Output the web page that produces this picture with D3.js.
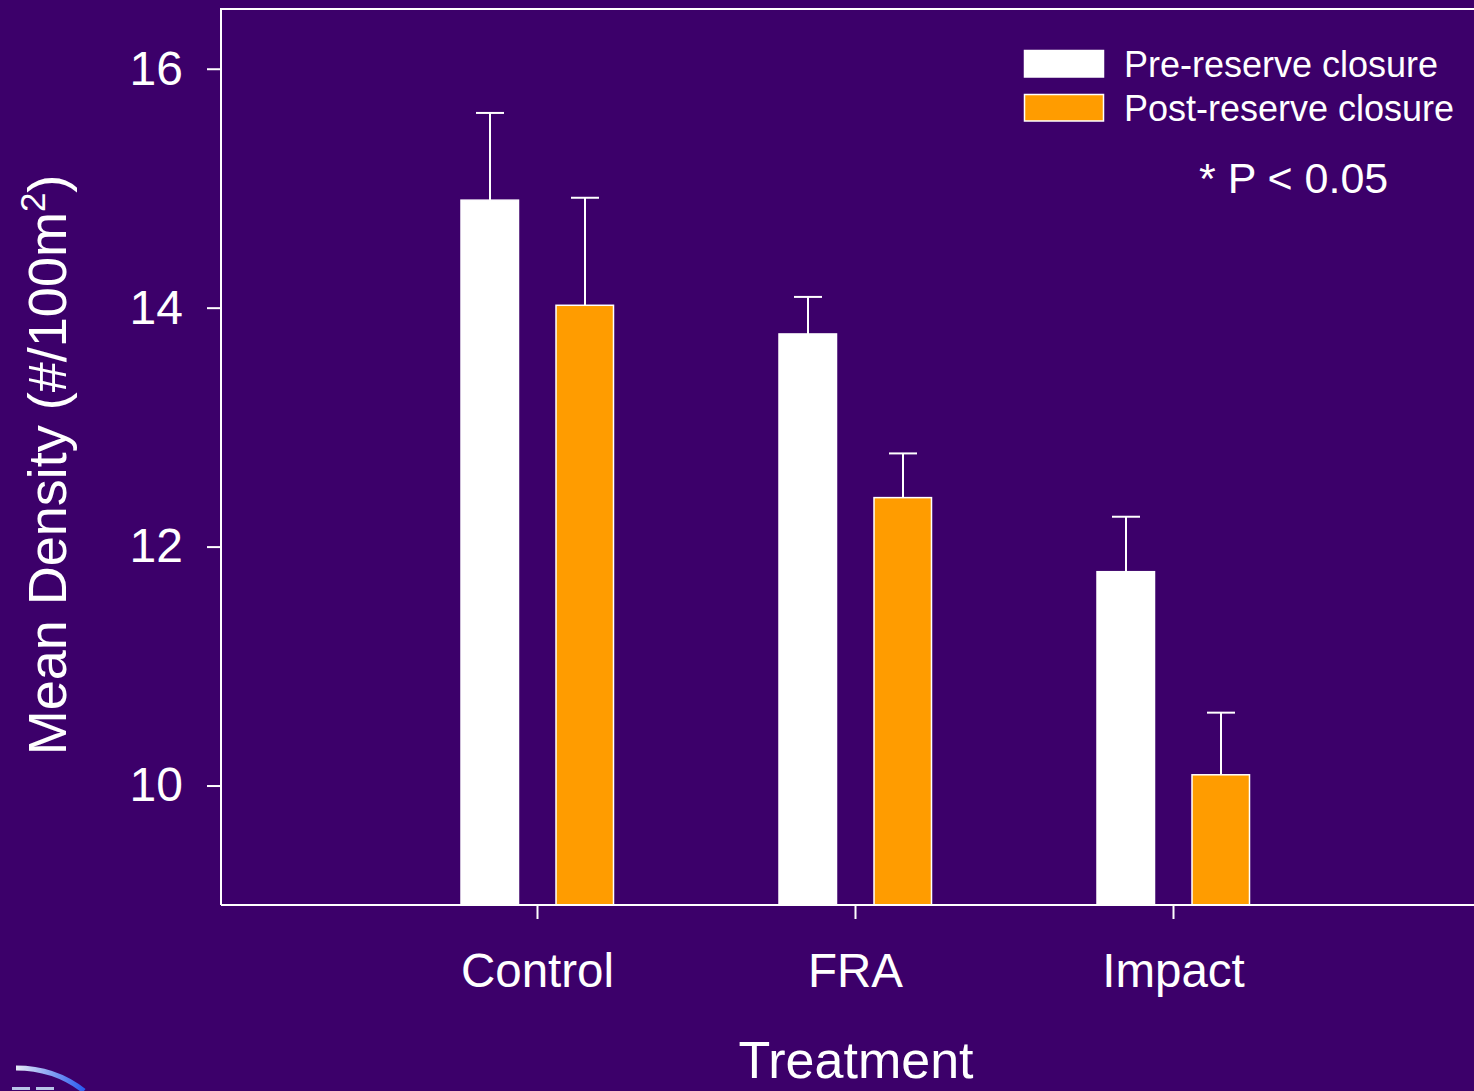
<!DOCTYPE html>
<html><head><meta charset="utf-8">
<script src="https://cdn.jsdelivr.net/npm/d3@7"></script>
<style>html,body{margin:0;padding:0;background:#3c006a;overflow:hidden}</style>
</head><body>
<svg id="c" width="1474" height="1091"></svg>
<script>
const categories = ["Control", "FRA", "Impact"];
const seriesNames = ["Pre-reserve closure", "Post-reserve closure"];
const preValues = [14.90, 13.78, 11.79];
const preErrors = [0.73, 0.31, 0.46];
const postValues = [14.02, 12.41, 10.09];
const postErrors = [0.90, 0.37, 0.52];
const yTicks = [10, 12, 14, 16];
const note = "* P < 0.05";

(function () {
const W = 1474, H = 1091;
const pLeft = 221, pTop = 9, pBottom = 905, pRight = 1490;
const bg = "#3c006a", orange = "#ff9c00", white = "#ffffff";
const font = "Liberation Sans, Arial, Helvetica, sans-serif";

const svg = d3.select("#c");
svg.append("rect").attr("width", W).attr("height", H).attr("fill", bg);

const y = d3.scaleLinear().domain([9, 16.5]).range([pBottom, pTop]);
const x = d3.scalePoint().domain(categories).range([537, 1173]);
const sub = d3.scalePoint().domain(seriesNames).range([-47, 48]);
const barW = 59;

svg.append("path").attr("d", `M${pRight},${pTop}H${pLeft}V${pBottom}`)
  .attr("fill", "none").attr("stroke", white).attr("stroke-width", 2);

const series = [
  {name: seriesNames[0], vals: preValues, errs: preErrors, fill: white},
  {name: seriesNames[1], vals: postValues, errs: postErrors, fill: orange}
];

series.forEach(s => {
  const g = svg.append("g");
  categories.forEach((c, i) => {
    const cx = x(c) + sub(s.name);
    g.append("line").attr("x1", cx).attr("x2", cx)
      .attr("y1", y(s.vals[i])).attr("y2", y(s.vals[i] + s.errs[i]))
      .attr("stroke", white).attr("stroke-width", 2);
    g.append("line").attr("x1", cx - 14).attr("x2", cx + 14)
      .attr("y1", y(s.vals[i] + s.errs[i])).attr("y2", y(s.vals[i] + s.errs[i]))
      .attr("stroke", white).attr("stroke-width", 2);
    g.append("rect").attr("x", cx - barW / 2 + 0.5).attr("width", barW - 1.5)
      .attr("y", y(s.vals[i])).attr("height", pBottom - y(s.vals[i]))
      .attr("fill", s.fill).attr("stroke", white).attr("stroke-width", 1.5);
  });
});

const ya = svg.append("g").attr("transform", `translate(${pLeft},0)`)
  .call(d3.axisLeft(y).tickValues(yTicks).tickSize(14).tickPadding(24).tickFormat(d3.format("d")));
ya.select(".domain").remove();
ya.selectAll("line").attr("stroke", white).attr("stroke-width", 2);
ya.selectAll("text").attr("fill", white).attr("font-family", font).attr("font-size", 48);

const xa = svg.append("g").attr("transform", `translate(0,${pBottom})`)
  .call(d3.axisBottom(x).tickSize(14).tickPadding(0));
xa.select(".domain").attr("d", `M${pLeft},0H${pRight}`).attr("stroke", white).attr("stroke-width", 2);
xa.selectAll("line").attr("stroke", white).attr("stroke-width", 2);
xa.selectAll("text").attr("fill", white).attr("font-family", font).attr("font-size", 47.5)
  .attr("dy", null).attr("y", 82);

svg.append("text").attr("x", 856).attr("y", 1078).attr("text-anchor", "middle")
  .attr("fill", white).attr("font-family", font).attr("font-size", 52).text("Treatment");
const yl = svg.append("text").attr("transform", "translate(66,465) rotate(-90)")
  .attr("text-anchor", "middle").attr("fill", white).attr("font-family", font).attr("font-size", 54);
yl.append("tspan").text("Mean Density (#/100m");
yl.append("tspan").attr("font-size", 35).attr("dy", -21).text("2");
yl.append("tspan").attr("dy", 21).text(")");

const lg = svg.append("g");
series.forEach((s, i) => {
  lg.append("rect").attr("x", 1024.5).attr("y", 50.5 + i * 44).attr("width", 79).attr("height", 26.5)
    .attr("fill", s.fill).attr("stroke", white).attr("stroke-width", 1.5);
  lg.append("text").attr("x", 1124).attr("y", 77 + i * 43.5).attr("fill", white)
    .attr("font-family", font).attr("font-size", 36).text(s.name);
});
svg.append("text").attr("x", 1199).attr("y", 193).attr("fill", white)
  .attr("font-family", font).attr("font-size", 43).text(note);

const grad = svg.append("defs").append("linearGradient").attr("id", "lg1")
  .attr("x1", "0").attr("x2", "1").attr("y1", "0").attr("y2", "0");
grad.append("stop").attr("offset", "0").attr("stop-color", "#e8ecf8");
grad.append("stop").attr("offset", "1").attr("stop-color", "#2a5cf0");
svg.append("path").attr("d", "M16,1068 Q55,1068 84,1091").attr("fill", "none")
  .attr("stroke", "url(#lg1)").attr("stroke-width", 5);
svg.append("path").attr("d", "M12,1088.5 H30 M36,1088.5 H54").attr("fill", "none")
  .attr("stroke", "#b8c4e8").attr("stroke-width", 3);
})();
</script>
</body></html>
